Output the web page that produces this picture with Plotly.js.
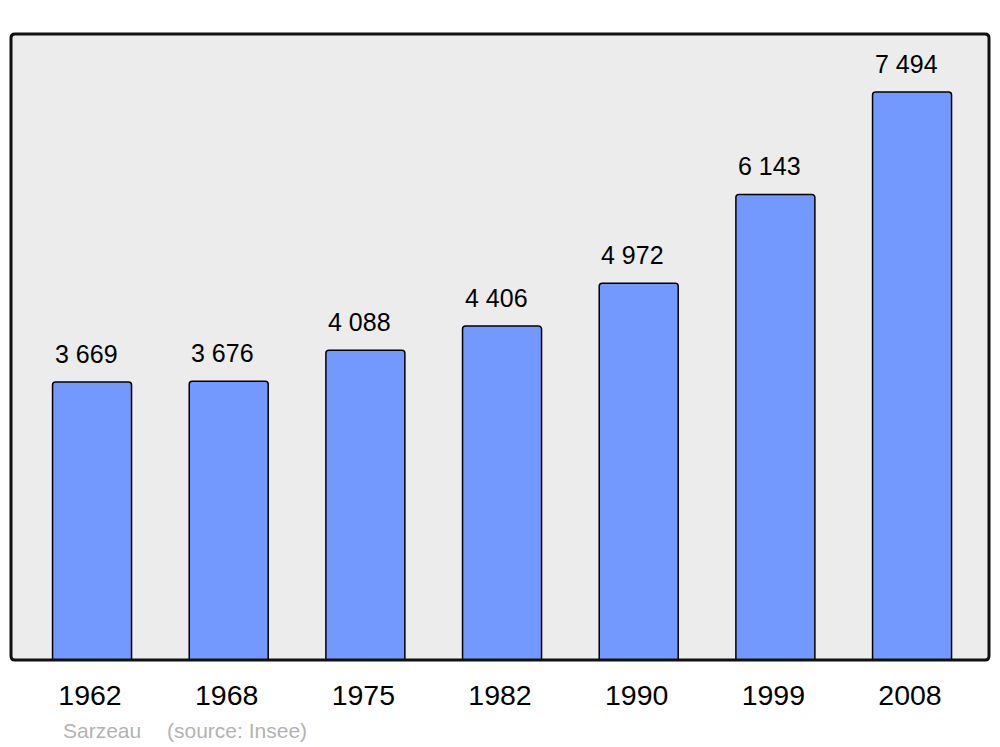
<!DOCTYPE html>
<html>
<head>
<meta charset="utf-8">
<script src="https://cdn.plot.ly/plotly-3.0.1.min.js"></script>
<style>html,body{margin:0;padding:0;background:#fff;}#chart{width:1000px;height:747px;}</style>
</head>
<body>
<div id="chart"></div>
<script>
const years = ["1962", "1968", "1975", "1982", "1990", "1999", "2008"];
const population = [3669, 3676, 4088, 4406, 4972, 6143, 7494];
const valueLabels = ["3 669", "3 676", "4 088", "4 406", "4 972", "6 143", "7 494"];
const town = "Sarzeau";
const source = "(source: Insee)";

const W = 1000, H = 747;
const mL = 11, mR = 11, mT = 34, mB = 87;
const pw = W - mL - mR, ph = H - mT - mB;
const idx = years.map((_, i) => i);

const annotations = idx.map(i => ({
  x: i, y: population[i], xref: 'x', yref: 'y',
  text: valueLabels[i], showarrow: false,
  xanchor: 'center', yanchor: 'middle', xshift: -6, yshift: 28,
  font: {family: 'Liberation Sans, Arial, sans-serif', size: 25, color: '#000'}
}));
annotations.push({
  x: (61 - mL) / pw, y: -(730 - (mT + ph)) / ph, xref: 'paper', yref: 'paper',
  text: town, showarrow: false, xanchor: 'left', yanchor: 'middle',
  font: {family: 'Liberation Sans, Arial, sans-serif', size: 21, color: '#b3b3b3'}
});
annotations.push({
  x: (165 - mL) / pw, y: -(730 - (mT + ph)) / ph, xref: 'paper', yref: 'paper',
  text: source, showarrow: false, xanchor: 'left', yanchor: 'middle',
  font: {family: 'Liberation Sans, Arial, sans-serif', size: 21, color: '#b3b3b3'}
});

// rounded frame around plot area
const r = 4, rx = r / pw, ry = r / ph;
const framePath = `M ${rx} 0 L ${1 - rx} 0 Q 1 0 1 ${ry} L 1 ${1 - ry} Q 1 1 ${1 - rx} 1 L ${rx} 1 Q 0 1 0 ${1 - ry} L 0 ${ry} Q 0 0 ${rx} 0 Z`;

const trace = {
  type: 'bar', x: idx, y: population, width: 0.578,
  marker: {color: '#7399ff', line: {color: '#000', width: 1.5}, cornerradius: 3},
  hoverinfo: 'skip'
};

const layout = {
  width: W, height: H,
  margin: {l: mL, r: mR, t: mT, b: mB, pad: 0},
  paper_bgcolor: '#ffffff', plot_bgcolor: '#ececec',
  showlegend: false,
  xaxis: {
    range: [-0.593, 6.563], tickvals: idx.map(i => i - 0.015), ticktext: years,
    showgrid: false, zeroline: false, showline: false, ticks: '',
    ticklabelstandoff: 15,
    tickfont: {family: 'Liberation Sans, Arial, sans-serif', size: 28.5, color: '#000'}
  },
  yaxis: {
    range: [0, 8259], showgrid: false, zeroline: false, showline: false,
    showticklabels: false, ticks: ''
  },
  annotations: annotations,
  shapes: [{type: 'path', xref: 'paper', yref: 'paper', path: framePath,
            line: {color: '#111', width: 3}, fillcolor: 'rgba(0,0,0,0)', layer: 'above'}]
};

Plotly.newPlot('chart', [trace], layout, {displayModeBar: false, staticPlot: true});
</script>
</body>
</html>
